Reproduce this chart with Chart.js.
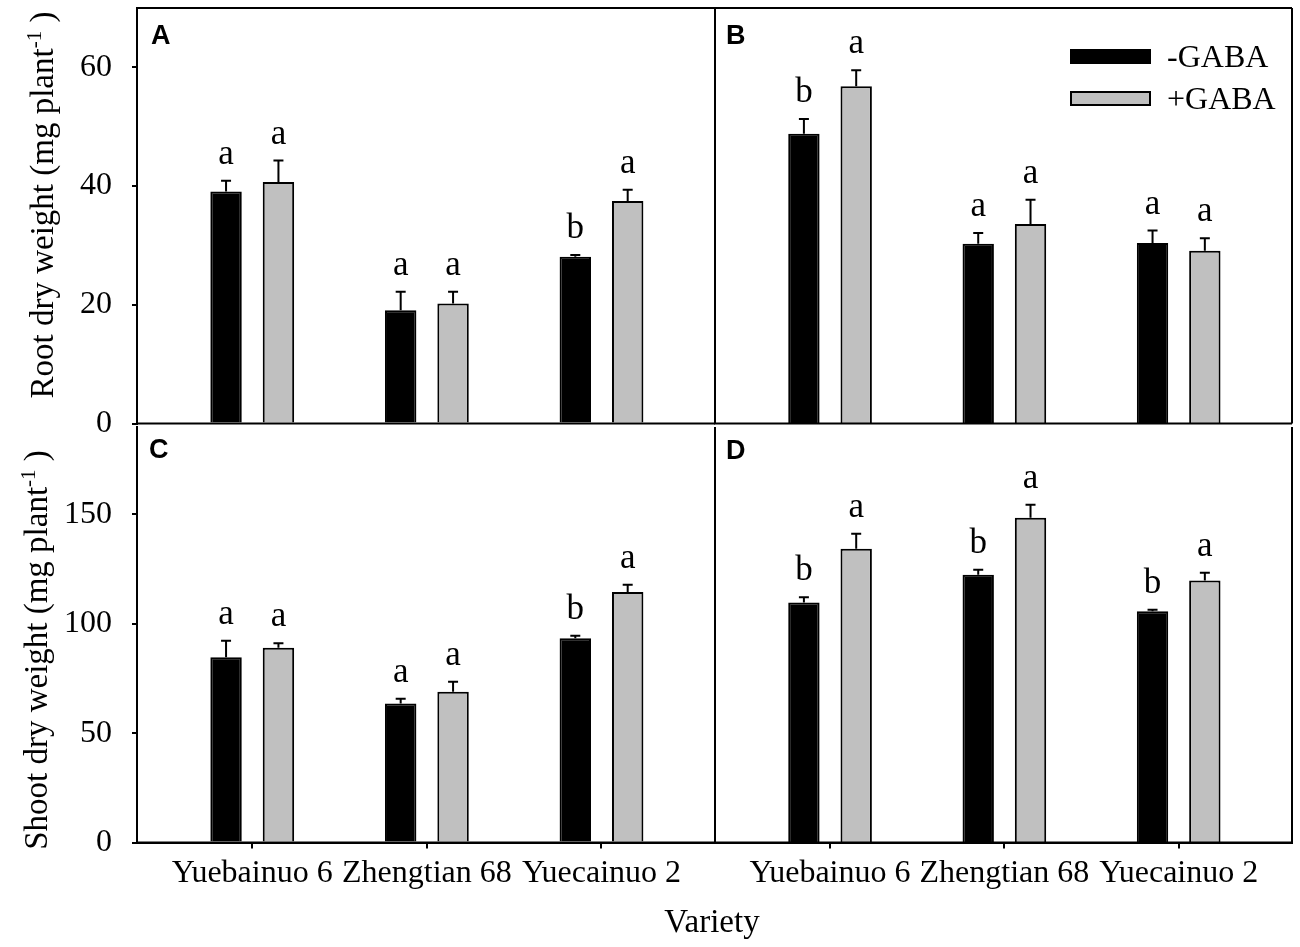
<!DOCTYPE html>
<html>
<head>
<meta charset="utf-8">
<script src="https://cdn.jsdelivr.net/npm/chart.js@4.4.1/dist/chart.umd.min.js"></script>
<style>
  html, body { margin: 0; padding: 0; background: #fff; }
  #wrap { position: relative; width: 1300px; height: 947px; overflow: hidden;
          font-family: 'Liberation Serif', 'Times New Roman', serif; color: #000; }
  canvas { position: absolute; left: 0; top: 0; }
  .ytitle { position: absolute; white-space: nowrap; font-size: 33px; line-height: 33px;
            transform: translate(-50%, -50%) rotate(-90deg); }
  .ytitle sup { font-size: 21px; line-height: 0; vertical-align: 0.55em; }
  #xtitle { position: absolute; left: 712px; top: 921px; font-size: 33px; line-height: 33px;
            transform: translate(-50%, -50%); white-space: nowrap; }
</style>
</head>
<body>
<div id="wrap">
  <canvas id="cA" width="1300" height="947"></canvas>
  <canvas id="cB" width="1300" height="947"></canvas>
  <canvas id="cC" width="1300" height="947"></canvas>
  <canvas id="cD" width="1300" height="947"></canvas>
  <div class="ytitle" style="left:42px; top:205px;">Root dry weight (mg plant<sup>-1</sup> )</div>
  <div class="ytitle" style="left:36px; top:650px;">Shoot dry weight (mg plant<sup>-1</sup> )</div>
  <div id="xtitle">Variety</div>
</div>
<script>
// varieties
const categories = ['Yuebainuo 6', 'Zhengtian 68', 'Yuecainuo 2'];
const seriesLabels = ['-GABA', '+GABA'];

// A: root dry weight, left
const rootA_minus = [39.1, 19.1, 28.1];
const rootA_minusSe = [1.8, 3.1, 0.3];
const rootA_plus = [40.7, 20.2, 37.5];
const rootA_plusSe = [3.6, 2.0, 1.9];
const rootA_minusSig = ['a', 'a', 'b'];
const rootA_plusSig = ['a', 'a', 'a'];

// B: root dry weight, right
const rootB_minus = [48.8, 30.3, 30.4];
const rootB_minusSe = [2.5, 1.8, 2.1];
const rootB_plus = [56.8, 33.6, 29.1];
const rootB_plusSe = [2.7, 4.1, 2.1];
const rootB_minusSig = ['b', 'a', 'a'];
const rootB_plusSig = ['a', 'a', 'a'];

// C: shoot dry weight, left
const shootC_minus = [84.7, 63.6, 93.4];
const shootC_minusSe = [7.6, 2.1, 1.1];
const shootC_plus = [89.0, 68.9, 114.5];
const shootC_plusSe = [2.1, 4.6, 3.4];
const shootC_minusSig = ['a', 'a', 'b'];
const shootC_plusSig = ['a', 'a', 'a'];

// D: shoot dry weight, right
const shootD_minus = [109.8, 122.4, 105.7];
const shootD_minusSe = [2.3, 2.3, 0.7];
const shootD_plus = [134.3, 148.5, 119.8];
const shootD_plusSe = [6.9, 6.0, 3.5];
const shootD_minusSig = ['b', 'b', 'b'];
const shootD_plusSig = ['a', 'a', 'a'];

const rootTicks = [0, 20, 40, 60];
const shootTicks = [0, 50, 100, 150];

const SERIF = "'Liberation Serif', 'Times New Roman', serif";
Chart.defaults.font.family = SERIF;
Chart.defaults.color = '#000';

const BLACK = '#000000';
const GREY = '#c0c0c0';

const errorBars = {
  id: 'errorBars',
  afterDatasetsDraw(chart, args, opts) {
    const ctx = chart.ctx;
    const yScale = chart.scales.y;
    ctx.save();
    ctx.strokeStyle = '#000';
    ctx.lineWidth = 2;
    ctx.fillStyle = '#000';
    ctx.font = '35px ' + SERIF;
    ctx.textAlign = 'center';
    ctx.textBaseline = 'alphabetic';
    chart.data.datasets.forEach((ds, d) => {
      const meta = chart.getDatasetMeta(d);
      meta.data.forEach((bar, i) => {
        const v = ds.data[i].y;
        const yTop = yScale.getPixelForValue(v + opts.se[d][i]);
        ctx.beginPath();
        ctx.moveTo(bar.x, bar.y);
        ctx.lineTo(bar.x, yTop);
        ctx.moveTo(bar.x - 5, yTop);
        ctx.lineTo(bar.x + 5, yTop);
        ctx.stroke();
        ctx.fillText(opts.sig[d][i], bar.x, yTop - 17);
      });
    });
    ctx.restore();
  }
};

const frame = {
  id: 'frame',
  afterDraw(chart, args, opts) {
    const {left, right, top, bottom} = chart.chartArea;
    const ctx = chart.ctx;
    ctx.save();
    ctx.strokeStyle = '#000';
    ctx.lineWidth = 2;
    ctx.beginPath();
    if (opts.topLine) {
      ctx.moveTo(left, top);
      ctx.lineTo(right, top);
    }
    ctx.moveTo(left, top);
    ctx.lineTo(left, bottom);
    ctx.lineTo(right, bottom);
    ctx.moveTo(right, top);
    ctx.lineTo(right, bottom);
    ctx.stroke();
    // panel letter
    ctx.fillStyle = '#000';
    ctx.font = "bold 27px 'Liberation Sans', Arial, sans-serif";
    ctx.textAlign = 'left';
    ctx.textBaseline = 'alphabetic';
    ctx.fillText(opts.letter, opts.lx, opts.ly);
    ctx.restore();
  }
};

const boxLegend = {
  id: 'boxLegend',
  afterDraw(chart, args, opts) {
    if (!opts.show) return;
    const ctx = chart.ctx;
    ctx.save();
    ctx.lineWidth = 2;
    ctx.strokeStyle = '#000';
    ctx.font = '32px ' + SERIF;
    ctx.textAlign = 'left';
    ctx.textBaseline = 'alphabetic';
    chart.data.datasets.forEach((ds, d) => {
      const y = 50 + d * 42;
      ctx.fillStyle = ds.backgroundColor;
      ctx.fillRect(1071, y, 79, 13);
      ctx.strokeRect(1071, y, 79, 13);
      ctx.fillStyle = '#000';
      ctx.fillText(ds.label, 1167, y + 17);
    });
    ctx.restore();
  }
};

function pts(vals) {
  return vals.map((v, i) => ({x: i, y: v}));
}

function makePanel(id, p) {
  new Chart(document.getElementById(id), {
    type: 'bar',
    data: {
      datasets: [
        { label: seriesLabels[0], data: pts(p.minus), backgroundColor: BLACK,
          borderColor: '#000', borderWidth: 2 },
        { label: seriesLabels[1], data: pts(p.plus), backgroundColor: GREY,
          borderColor: '#000', borderWidth: 2 }
      ]
    },
    options: {
      responsive: false,
      animation: false,
      devicePixelRatio: 1,
      categoryPercentage: 0.6,
      barPercentage: 0.6,
      layout: { padding: p.pad },
      plugins: {
        legend: { display: false },
        tooltip: { enabled: false },
        errorBars: { se: [p.minusSe, p.plusSe], sig: [p.minusSig, p.plusSig] },
        frame: { topLine: p.topLine, letter: p.letter, lx: p.lx, ly: p.ly },
        boxLegend: { show: !!p.legend }
      },
      scales: {
        x: {
          type: 'linear',
          display: p.showX,
          min: -0.66,
          max: 2.65,
          offset: false,
          afterBuildTicks: s => { s.ticks = categories.map((c, i) => ({value: i})); },
          afterFit: s => {
            if (s.options.display) s.height = 70;
            s.paddingLeft = 0; s.paddingRight = 0;
          },
          grid: { display: true, offset: false, drawOnChartArea: false, drawTicks: true,
                  tickLength: 6, color: '#000', lineWidth: 2 },
          border: { display: true, color: '#000', width: 2 },
          ticks: { padding: 6, autoSkip: false, maxRotation: 0, minRotation: 0,
                   color: '#000', font: { size: 32 },
                   callback: (v, i) => categories[i] }
        },
        y: {
          display: p.showY,
          min: 0,
          max: p.yMax,
          afterBuildTicks: s => { s.ticks = p.yTicks.map(v => ({value: v})); },
          afterFit: s => {
            if (s.options.display) s.width = 80;
            s.paddingTop = 0; s.paddingBottom = 0;
          },
          grid: { display: true, drawOnChartArea: false, drawTicks: true,
                  tickLength: 5, color: '#000', lineWidth: 2 },
          border: { display: true, color: '#000', width: 2 },
          ticks: { padding: 20, color: '#000', font: { size: 32 } }
        }
      }
    },
    plugins: [errorBars, frame, boxLegend]
  });
}

makePanel('cA', {
  minus: rootA_minus, minusSe: rootA_minusSe, plus: rootA_plus, plusSe: rootA_plusSe,
  minusSig: rootA_minusSig, plusSig: rootA_plusSig,
  yMax: 70, yTicks: rootTicks, showY: true, showX: false, topLine: true,
  letter: 'A', lx: 151, ly: 44,
  pad: { left: 57, top: 8, right: 585, bottom: 523.5 }
});
makePanel('cB', {
  minus: rootB_minus, minusSe: rootB_minusSe, plus: rootB_plus, plusSe: rootB_plusSe,
  minusSig: rootB_minusSig, plusSig: rootB_plusSig,
  yMax: 70, yTicks: rootTicks, showY: false, showX: false, topLine: true,
  letter: 'B', lx: 726, ly: 44, legend: true,
  pad: { left: 715, top: 8, right: 8, bottom: 523.5 }
});
makePanel('cC', {
  minus: shootC_minus, minusSe: shootC_minusSe, plus: shootC_plus, plusSe: shootC_plusSe,
  minusSig: shootC_minusSig, plusSig: shootC_plusSig,
  yMax: 190, yTicks: shootTicks, showY: true, showX: true, topLine: false,
  letter: 'C', lx: 149, ly: 458,
  pad: { left: 57, top: 427, right: 585, bottom: 34.5 }
});
makePanel('cD', {
  minus: shootD_minus, minusSe: shootD_minusSe, plus: shootD_plus, plusSe: shootD_plusSe,
  minusSig: shootD_minusSig, plusSig: shootD_plusSig,
  yMax: 190, yTicks: shootTicks, showY: false, showX: true, topLine: false,
  letter: 'D', lx: 726, ly: 459,
  pad: { left: 715, top: 427, right: 8, bottom: 34.5 }
});
</script>
</body>
</html>
